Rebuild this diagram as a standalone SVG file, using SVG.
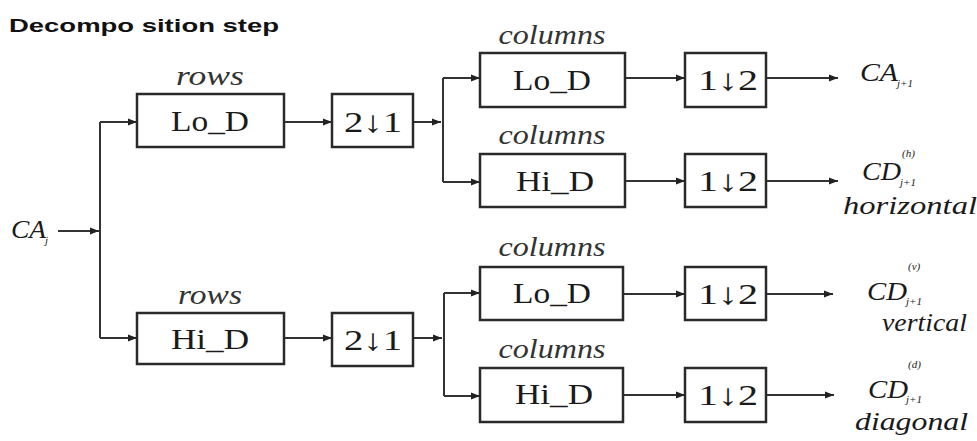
<svg xmlns="http://www.w3.org/2000/svg" width="977" height="441" viewBox="0 0 977 441">
<defs>
<marker id="ah" markerUnits="userSpaceOnUse" markerWidth="10" markerHeight="8" refX="9" refY="4" orient="auto">
<path d="M0,0.5 L9,4 L0,7.5 Z" fill="#222"/>
</marker>
<style>
.box{fill:#fff;stroke:#2a2a2a;stroke-width:2.5}
.ln{fill:none;stroke:#333;stroke-width:2}
</style>
</defs>
<rect width="977" height="441" fill="#fff"/>
<text x="9" y="32" font-family="Liberation Sans" font-weight="bold" font-size="19" fill="#111" textLength="270" lengthAdjust="spacingAndGlyphs">Decompo sition step</text>

<g id="connectors">
<line class="ln" x1="58" y1="231" x2="99" y2="231" marker-end="url(#ah)"/>
<line class="ln" x1="100" y1="122" x2="100" y2="338"/>
<line class="ln" x1="100" y1="122" x2="137" y2="122" marker-end="url(#ah)"/>
<line class="ln" x1="100" y1="338" x2="137" y2="338" marker-end="url(#ah)"/>
<line class="ln" x1="284" y1="122" x2="332" y2="122" marker-end="url(#ah)"/>
<line class="ln" x1="284" y1="338" x2="332" y2="338" marker-end="url(#ah)"/>
<line class="ln" x1="413" y1="122" x2="441" y2="122" marker-end="url(#ah)"/>
<line class="ln" x1="443" y1="78" x2="443" y2="182"/>
<line class="ln" x1="443" y1="78" x2="480" y2="78" marker-end="url(#ah)"/>
<line class="ln" x1="443" y1="182" x2="480" y2="182" marker-end="url(#ah)"/>
<line class="ln" x1="413" y1="338" x2="442" y2="338" marker-end="url(#ah)"/>
<line class="ln" x1="444" y1="293" x2="444" y2="396"/>
<line class="ln" x1="444" y1="293" x2="480" y2="293" marker-end="url(#ah)"/>
<line class="ln" x1="444" y1="396" x2="480" y2="396" marker-end="url(#ah)"/>
<line class="ln" x1="625" y1="78" x2="685" y2="78" marker-end="url(#ah)"/>
<line class="ln" x1="625" y1="181" x2="685" y2="181" marker-end="url(#ah)"/>
<line class="ln" x1="623" y1="294" x2="685" y2="294" marker-end="url(#ah)"/>
<line class="ln" x1="623" y1="395" x2="685" y2="395" marker-end="url(#ah)"/>
<line class="ln" x1="766" y1="78" x2="838" y2="78" marker-end="url(#ah)"/>
<line class="ln" x1="766" y1="181" x2="838" y2="181" marker-end="url(#ah)"/>
<line class="ln" x1="766" y1="294" x2="833" y2="294" marker-end="url(#ah)"/>
<line class="ln" x1="766" y1="395" x2="834" y2="395" marker-end="url(#ah)"/>
</g>

<g font-family="Liberation Serif" fill="#1a1a1a">

<g id="ca_j" font-style="italic">
<text x="11" y="238" font-size="25" textLength="35" lengthAdjust="spacingAndGlyphs">CA</text>
<text x="45" y="244" font-size="11">j</text>
</g>

<g id="rows_lo">
<text x="210" y="85" font-size="27" font-style="italic" text-anchor="middle" textLength="68" lengthAdjust="spacingAndGlyphs" fill="#333">rows</text>
<rect class="box" x="137" y="94" width="147" height="53"/>
<text x="210" y="131" font-size="30" text-anchor="middle" textLength="78" lengthAdjust="spacingAndGlyphs">Lo_D</text>
</g>
<g id="rows_hi">
<text x="210" y="304" font-size="27" font-style="italic" text-anchor="middle" textLength="64" lengthAdjust="spacingAndGlyphs" fill="#333">rows</text>
<rect class="box" x="137" y="313" width="147" height="51"/>
<text x="210" y="349" font-size="30" text-anchor="middle" textLength="78" lengthAdjust="spacingAndGlyphs">Hi_D</text>
</g>

<g id="down_top">
<rect class="box" x="332" y="94" width="81" height="53"/>
<text x="373" y="132" font-size="30" text-anchor="middle" textLength="58" lengthAdjust="spacingAndGlyphs">2↓1</text>
</g>
<g id="down_bot">
<rect class="box" x="332" y="313" width="81" height="53"/>
<text x="373" y="350" font-size="30" text-anchor="middle" textLength="58" lengthAdjust="spacingAndGlyphs">2↓1</text>
</g>

<g id="col_lo_top">
<text x="552" y="44" font-size="27" font-style="italic" text-anchor="middle" textLength="107" lengthAdjust="spacingAndGlyphs" fill="#333">columns</text>
<rect class="box" x="480" y="53" width="145" height="54"/>
<text x="552" y="90" font-size="30" text-anchor="middle" textLength="78" lengthAdjust="spacingAndGlyphs">Lo_D</text>
</g>
<g id="col_hi_top">
<text x="552" y="144" font-size="27" font-style="italic" text-anchor="middle" textLength="107" lengthAdjust="spacingAndGlyphs" fill="#333">columns</text>
<rect class="box" x="480" y="154" width="145" height="53"/>
<text x="555" y="191" font-size="30" text-anchor="middle" textLength="78" lengthAdjust="spacingAndGlyphs">Hi_D</text>
</g>
<g id="col_lo_bot">
<text x="552" y="256" font-size="27" font-style="italic" text-anchor="middle" textLength="107" lengthAdjust="spacingAndGlyphs" fill="#333">columns</text>
<rect class="box" x="480" y="267" width="143" height="53"/>
<text x="552" y="303" font-size="30" text-anchor="middle" textLength="78" lengthAdjust="spacingAndGlyphs">Lo_D</text>
</g>
<g id="col_hi_bot">
<text x="552" y="358" font-size="27" font-style="italic" text-anchor="middle" textLength="107" lengthAdjust="spacingAndGlyphs" fill="#333">columns</text>
<rect class="box" x="480" y="368" width="143" height="54"/>
<text x="554" y="404" font-size="30" text-anchor="middle" textLength="78" lengthAdjust="spacingAndGlyphs">Hi_D</text>
</g>

<g id="ds1">
<rect class="box" x="685" y="53" width="81" height="54"/>
<text x="728" y="90" font-size="30" text-anchor="middle" textLength="60" lengthAdjust="spacingAndGlyphs">1↓2</text>
</g>
<g id="ds2">
<rect class="box" x="685" y="154" width="81" height="53"/>
<text x="728" y="191" font-size="30" text-anchor="middle" textLength="60" lengthAdjust="spacingAndGlyphs">1↓2</text>
</g>
<g id="ds3">
<rect class="box" x="685" y="267" width="81" height="53"/>
<text x="728" y="304" font-size="30" text-anchor="middle" textLength="60" lengthAdjust="spacingAndGlyphs">1↓2</text>
</g>
<g id="ds4">
<rect class="box" x="685" y="368" width="81" height="54"/>
<text x="728" y="405" font-size="30" text-anchor="middle" textLength="60" lengthAdjust="spacingAndGlyphs">1↓2</text>
</g>

<g id="out_ca" font-style="italic">
<text x="860" y="81" font-size="25" textLength="38" lengthAdjust="spacingAndGlyphs">CA</text>
<text x="897" y="87" font-size="11">j+1</text>
</g>
<g id="out_h" font-style="italic">
<text x="862" y="180" font-size="25" textLength="39" lengthAdjust="spacingAndGlyphs">CD</text>
<text x="902" y="157" font-size="11">(h)</text>
<text x="900" y="186" font-size="11">j+1</text>
<text x="843" y="214" font-size="26" textLength="134" lengthAdjust="spacingAndGlyphs">horizontal</text>
</g>
<g id="out_v" font-style="italic">
<text x="867" y="300" font-size="25" textLength="40" lengthAdjust="spacingAndGlyphs">CD</text>
<text x="908" y="270" font-size="11">(v)</text>
<text x="906" y="305" font-size="11">j+1</text>
<text x="882" y="331" font-size="26" textLength="85" lengthAdjust="spacingAndGlyphs">vertical</text>
</g>
<g id="out_d" font-style="italic">
<text x="868" y="398" font-size="25" textLength="40" lengthAdjust="spacingAndGlyphs">CD</text>
<text x="908" y="368" font-size="11">(d)</text>
<text x="906" y="403" font-size="11">j+1</text>
<text x="855" y="430" font-size="26" textLength="113" lengthAdjust="spacingAndGlyphs">diagonal</text>
</g>
</g>
</svg>
